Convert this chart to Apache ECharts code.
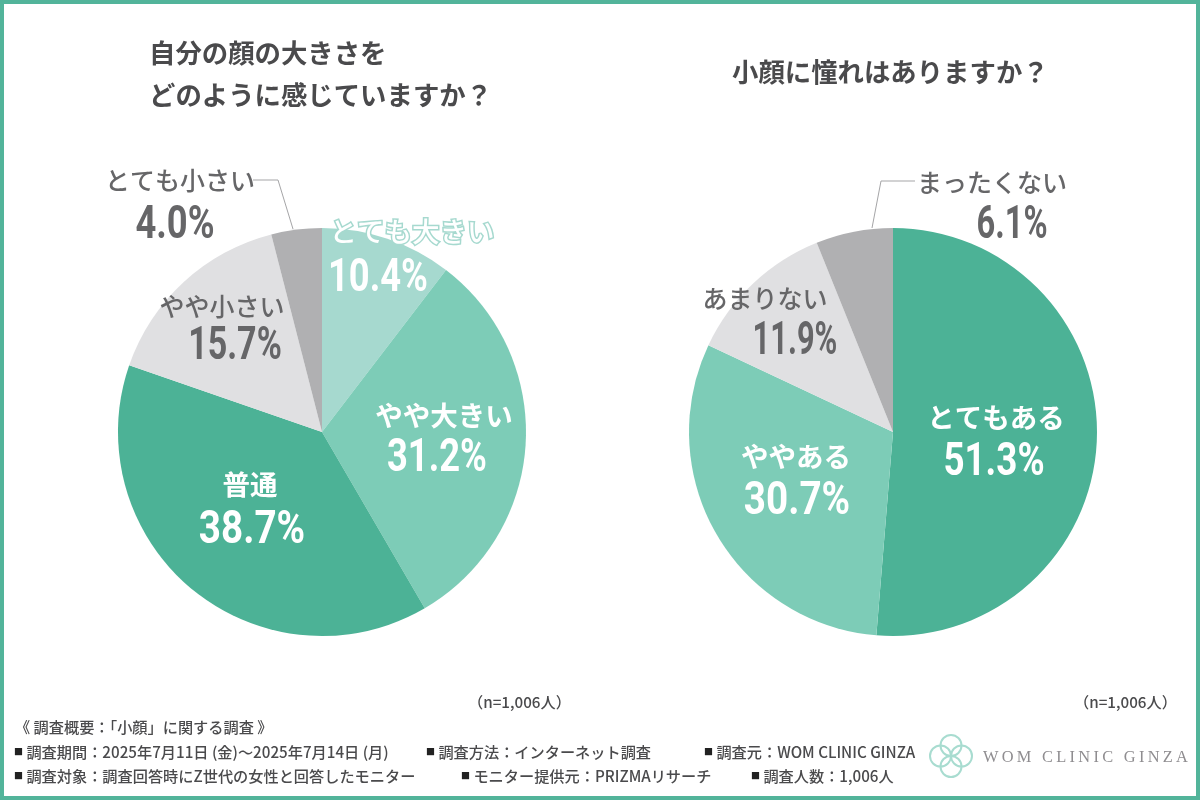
<!DOCTYPE html>
<html>
<head>
<meta charset="utf-8">
<style>
html, body { margin: 0; padding: 0; background: #fff; }
#chart { width: 1200px; height: 800px; }
</style>
<script src="https://cdn.jsdelivr.net/npm/echarts@6/dist/echarts.min.js"></script>
</head>
<body>
<div id="chart"></div>
<script>
// data
var sizeNames = ["とても大きい", "やや大きい", "普通", "やや小さい", "とても小さい"];
var sizeValues = [10.4, 31.2, 38.7, 15.7, 4.0];
var wishNames = ["とてもある", "ややある", "あまりない", "まったくない"];
var wishValues = [51.3, 30.7, 11.9, 6.1];

var sizeColors = ["#a6d9cf", "#7dccb7", "#4cb296", "#e0e0e2", "#b0b0b2"];
var wishColors = ["#4cb296", "#7dccb7", "#e0e0e2", "#b0b0b2"];

// label centres, px: name then value
var sizeNamePos = [[412, 232], [444, 416], [250, 485], [222, 306], [180, 180]];
var sizeValPos = [[378, 279], [437, 459], [252, 531], [235, 347], [175, 226]];
var wishNamePos = [[996, 418], [796, 457], [765, 298], [992, 182]];
var wishValPos = [[994, 463], [797, 502], [795, 342], [1012, 226]];

// no condensed font here, so the percentages get squeezed horizontally
var sizeValSqueeze = [0.79, 0.79, 0.84, 0.74, 0.79];
var wishValSqueeze = [0.80, 0.84, 0.67, 0.71];

var JP = '"Noto Sans CJK JP", sans-serif';
var DARK = "#666668";

function pieSeries(names, values, colors, center, pos, darkFrom) {
    return {
        type: "pie",
        center: center,
        radius: [0, 204],
        startAngle: 90,
        clockwise: true,
        silent: true,
        animation: false,
        label: { show: true, position: "inside", fontFamily: JP, formatter: "{b}" },
        labelLine: { show: false },
        labelLayout: function(params) {
            var p = pos[params.dataIndex];
            return { x: p[0], y: p[1], align: "center", verticalAlign: "middle" };
        },
        data: values.map(function(v, i) {
            var dark = i >= darkFrom;
            return {
                name: names[i],
                value: v,
                itemStyle: { color: colors[i], borderWidth: 0 },
                label: {
                    color: dark ? DARK : "#fff",
                    fontSize: dark ? 25 : 27.5,
                    fontWeight: dark ? 500 : 700
                }
            };
        })
    };
}

var sizeSeries = pieSeries(sizeNames, sizeValues, sizeColors, [322, 432], sizeNamePos, 3);
// the top slice label is white with a pale outline in the source
sizeSeries.data[0].label.textBorderColor = "#a6d9cf";
sizeSeries.data[0].label.textBorderWidth = 3;
sizeSeries.data[0].label.fontWeight = 500;

var wishSeries = pieSeries(wishNames, wishValues, wishColors, [893, 432], wishNamePos, 2);

function valueTexts(values, pos, squeeze, darkFrom) {
    return values.map(function(v, i) {
        return {
            type: "text",
            x: pos[i][0], y: pos[i][1],
            scaleX: squeeze[i],
            z: 10,
            style: {
                text: v.toFixed(1) + "%",
                fontFamily: "Roboto, sans-serif",
                fontSize: 46,
                fontWeight: 700,
                fill: i >= darkFrom ? DARK : "#fff",
                align: "center",
                verticalAlign: "middle"
            }
        };
    });
}

var footerFill = "#4a4a4c";
function foot(x, y, text) {
    return {
        type: "text", x: x, y: y,
        style: {
            text: text, fontFamily: JP, fontSize: 15.2, fontWeight: 500, fill: footerFill,
            verticalAlign: "middle",
            rich: { b: { fontFamily: JP, fontSize: 9, fill: "#222" } }
        }
    };
}

function leader(points) {
    return {
        type: "polyline",
        shape: { points: points },
        style: { stroke: "#a5a5a7", lineWidth: 1, fill: null }
    };
}

// logo: four overlapping rings
var logoCx = 951, logoCy = 756;
function ring(dx, dy) {
    return {
        type: "circle",
        shape: { cx: logoCx + dx, cy: logoCy + dy, r: 10.5 },
        style: { stroke: "#a8dcd0", lineWidth: 2, fill: null }
    };
}

var chart = echarts.init(document.getElementById("chart"), null, { renderer: "canvas" });
chart.setOption({
    backgroundColor: "#fff",
    animation: false,
    title: [
        {
            text: "自分の顔の大きさを\nどのように感じていますか？",
            left: 149, top: 32, padding: 0,
            textStyle: { fontFamily: JP, fontSize: 26.4, fontWeight: 700, color: "#4a4a4c", lineHeight: 42 }
        },
        {
            text: "小顔に憧れはありますか？",
            left: 732, top: 54, padding: 0,
            textStyle: { fontFamily: JP, fontSize: 26.4, fontWeight: 700, color: "#4a4a4c", lineHeight: 36 }
        }
    ],
    series: [sizeSeries, wishSeries],
    graphic: [
        {
            type: "rect",
            shape: { x: 2, y: 2, width: 1196, height: 796 },
            style: { stroke: "#52b49a", lineWidth: 4, fill: null },
            z: 100
        },
        leader([[253, 180], [278, 180], [293, 229]]),
        leader([[915, 181], [881, 181], [872, 228]]),
        foot(468, 702, "（n=1,006人）"),
        foot(1074, 702, "（n=1,006人）"),
        foot(15, 727, "《 調査概要：「小顔」に関する調査 》"),
        foot(14, 752, "{b|■} 調査期間：2025年7月11日 (金)～2025年7月14日 (月)"),
        foot(426, 752, "{b|■} 調査方法：インターネット調査"),
        foot(704, 752, "{b|■} 調査元：WOM CLINIC GINZA"),
        foot(14, 776, "{b|■} 調査対象：調査回答時にZ世代の女性と回答したモニター"),
        foot(461, 776, "{b|■} モニター提供元：PRIZMAリサーチ"),
        foot(751, 776, "{b|■} 調査人数：1,006人"),
        ring(0, -10.5), ring(0, 10.5), ring(-10.5, 0), ring(10.5, 0),
        {
            type: "text", x: 983, y: 758,
            style: {
                text: "WOM CLINIC GINZA".split("").join("\u2009"),
                fontFamily: '"Liberation Serif", serif', fontSize: 16.4, fill: "#8f8d90",
                verticalAlign: "middle"
            }
        }
    ].concat(valueTexts(sizeValues, sizeValPos, sizeValSqueeze, 3), valueTexts(wishValues, wishValPos, wishValSqueeze, 2))
});
</script>
</body>
</html>
